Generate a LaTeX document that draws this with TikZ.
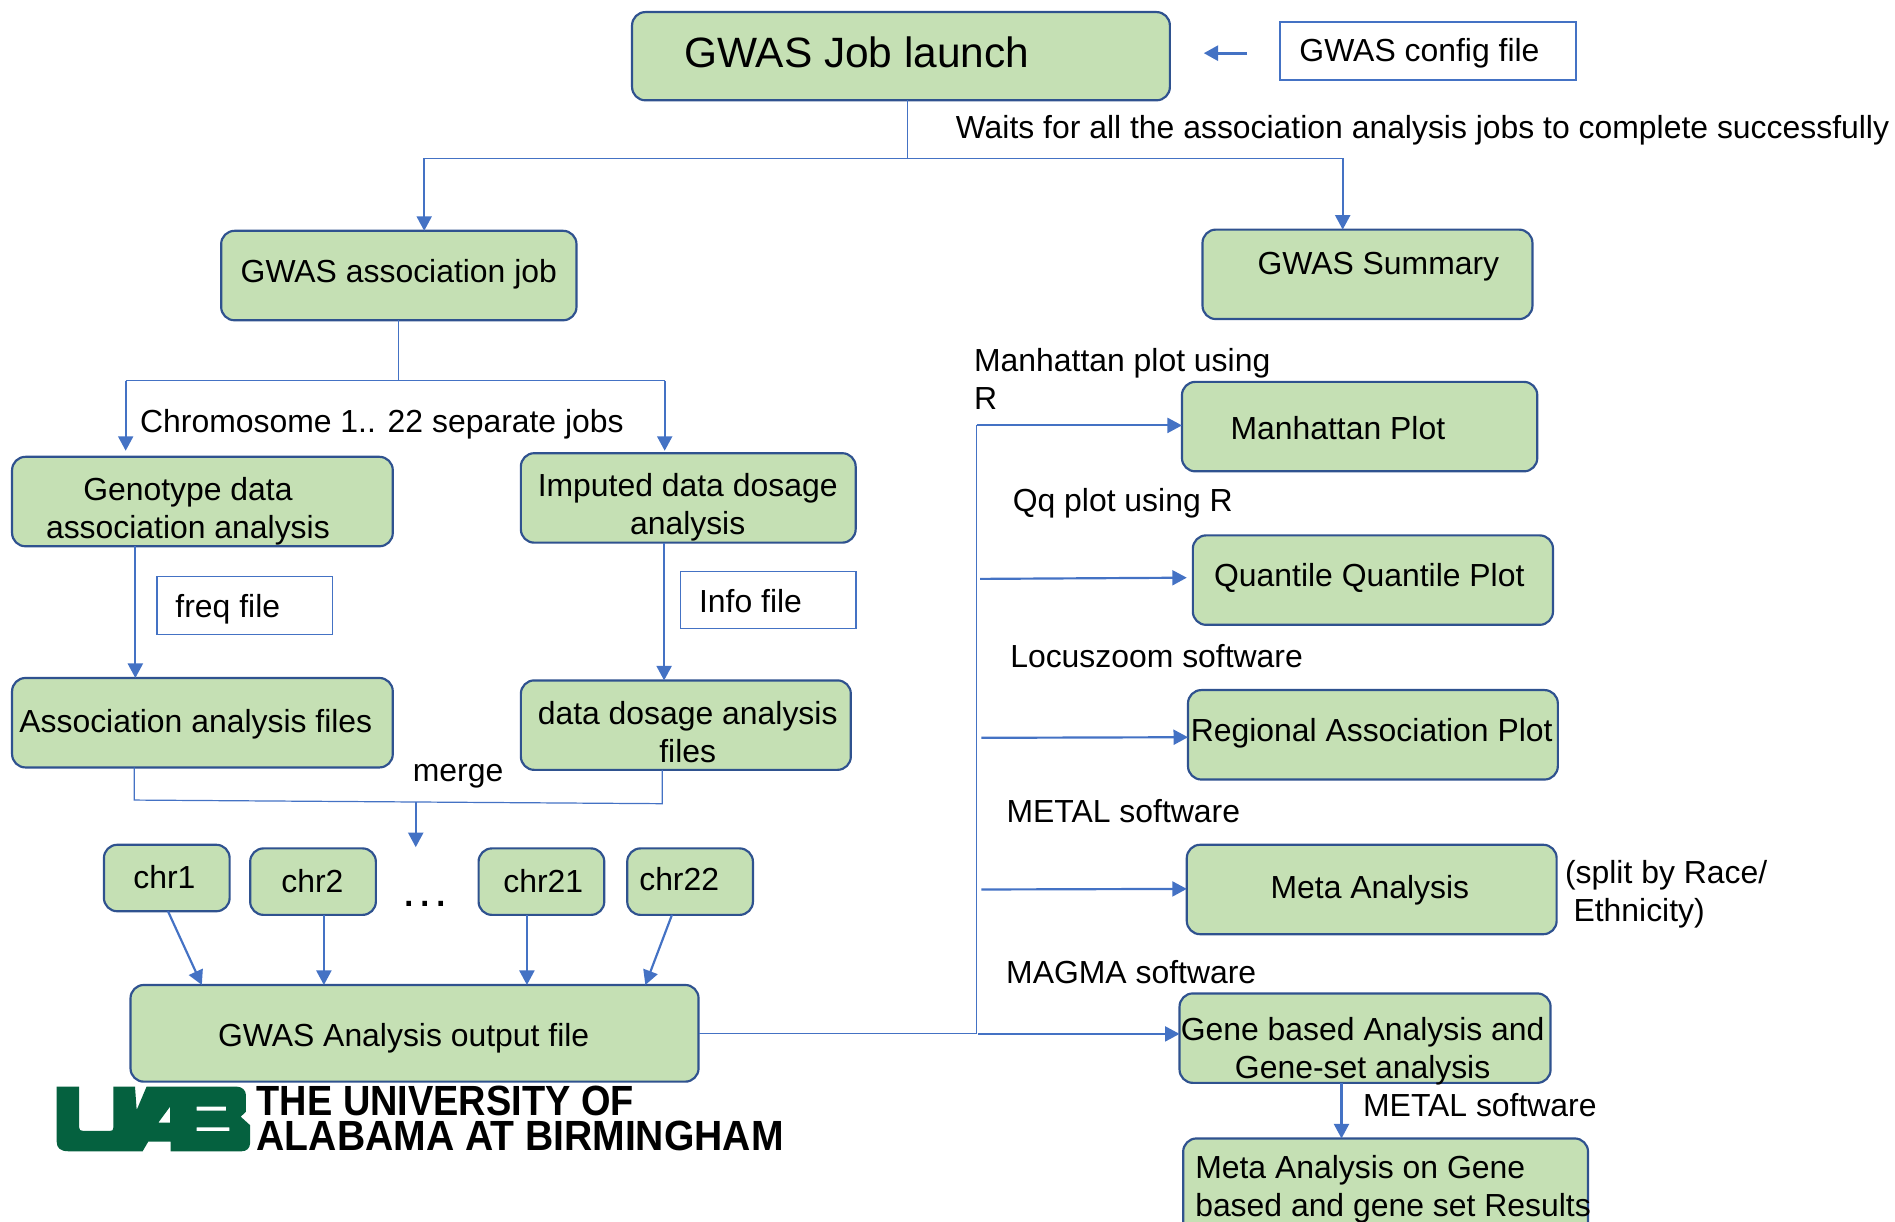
\documentclass[tikz,border=0pt]{standalone}
\usepackage{fontspec}
\usepackage{graphicx}
\setmainfont{Liberation Sans}
\usetikzlibrary{arrows.meta}
\definecolor{boxfill}{HTML}{C5E0B4}
\definecolor{boxline}{HTML}{2F528F}
\definecolor{conn}{HTML}{4472C4}
\definecolor{uabgreen}{HTML}{05613F}
\tikzset{
  x=0.5pt,y=-0.5pt,
  box/.style={draw=boxline,fill=boxfill,line width=0.9pt,rounded corners=5.5pt,outer sep=0pt,inner sep=0pt},
  filebox/.style={draw=conn,fill=white,line width=0.7pt,outer sep=0pt,inner sep=0pt},
  txt/.style={inner sep=0pt,outer sep=0pt,font=\fontsize{13.2}{15.6}\selectfont,align=center,text=black},
  thin line/.style={draw=conn,line width=0.5pt},
  flow/.style={draw=conn,line width=0.9pt,-{Triangle[length=6pt,width=6.2pt]}},
}
\newcommand{\bx}[6][box]{%
  \pgfmathsetmacro{\bw}{(#4-#2)*0.5}\pgfmathsetmacro{\bh}{(#5-#3)*0.5}%
  \node[#1,minimum width=\bw pt,minimum height=\bh pt] (#6) at ({(#2+#4)/2},{(#3+#5)/2}) {};}
\begin{document}
\begin{tikzpicture}
\clip (0,0) rectangle (1568,1011.1);
% boxes
\bx{523}{10}{968}{83}{job}
\bx[filebox]{1059}{18}{1304}{66}{cfg}
\bx{183}{191}{477}{265}{assoc}
\bx{995}{190}{1268}{264}{summary}
\bx{10}{378}{325}{452}{geno}
\bx{431}{375}{708}{449}{imput}
\bx[filebox]{130}{477}{275}{525}{freq}
\bx[filebox]{563}{473}{708}{520}{info}
\bx{10}{561}{325}{635}{afiles}
\bx{431}{563}{704}{637}{dfiles}
\bx{86}{699}{190}{754}{chra}
\bx{207}{702}{311}{757}{chrb}
\bx{396}{702}{500}{757}{chrc}
\bx{519}{702}{623}{757}{chrd}
\bx{108}{815}{578}{895}{output}
\bx{978}{316}{1272}{390}{manh}
\bx{987}{443}{1285}{517}{qq}
\bx{983}{571}{1289}{645}{regional}
\bx{982}{699}{1288}{773}{meta}
\bx{976}{822}{1283}{896}{gene}
\bx{979}{942}{1314}{1040}{metagene}
% texts
\node[txt,font=\fontsize{17.55}{20}\selectfont] (t1) at (709,43) {GWAS Job launch};
\node[txt] (t2) at (1174.5,44) {GWAS config file};
\node[txt] (t3) at (1177,108) {Waits for all the association analysis jobs to complete successfully};
\node[txt] (t4) at (330,227) {GWAS association job};
\node[txt] (t5) at (1140.5,221) {GWAS Summary};
\node[txt] (t6) at (316,351) {Chromosome 1.. 22 separate jobs};
\node[txt] (t7) at (155.5,423) {Genotype data\\association analysis};
\node[txt] (t8) at (569,420) {Imputed data dosage\\analysis};
\node[txt] (t9) at (188.5,504) {freq file};
\node[txt] (t10) at (621,497) {Info file};
\node[txt] (t11) at (162,599) {Association analysis files};
\node[txt] (t12) at (569,606) {data dosage analysis\\files};
\node[txt] (t13) at (379,642) {merge};
\node[txt] (t14) at (136,726) {chr1};
\node[txt] (t15) at (258.5,729) {chr2};
\node[txt] (t16) at (449.5,729) {chr21};
\node[txt] (t17) at (562,727) {chr22};
\node[txt,font=\fontsize{20}{22}\selectfont] (t18) at (352,748.3) {.\kern1.06pt.\kern1.06pt.};
\node[txt] (t19) at (334,859) {GWAS Analysis output file};
\node[txt,align=left,anchor=west] (t20) at (806,313.5) {Manhattan plot using\\R};
\node[txt] (t21) at (1107,354) {Manhattan Plot};
\node[txt] (t22) at (929,416) {Qq plot using R};
\node[txt] (t23) at (1133,478) {Quantile Quantile Plot};
\node[txt] (t24) at (957,543) {Locuszoom software};
\node[txt] (t25) at (1135,607) {Regional Association Plot};
\node[txt] (t26) at (929.5,671) {METAL software};
\node[txt] (t27) at (1133.5,737) {Meta Analysis};
\node[txt,align=left,anchor=west] (t28) at (1295,740) {(split by Race/\\\hspace*{3.5pt}Ethnicity)};
\node[txt] (t29) at (936,804) {MAGMA software};
\node[txt] (t30) at (1127.5,870) {Gene based Analysis and\\Gene-set analysis};
\node[txt] (t31) at (1224.5,914) {METAL software};
\node[txt,align=left,anchor=west] (t32) at (989,984) {Meta Analysis on Gene\\based and gene set Results};
% logo
\fill[uabgreen,even odd rule]
  (46.9,899.1) -- (65.4,899.1) -- (65.4,932.5) .. controls (65.4,935) and (66.5,935.8) .. (69,935.8)
  -- (91,935.8) .. controls (93,935.8) and (93.8,935) .. (93.8,933) -- (93.8,899.1) -- (111.7,899.1) -- (113.1,918.4) -- (121.3,899.1)
  -- (195.8,899.1) .. controls (200,899.1) and (203.5,902) .. (203.5,906) -- (203.5,919.8) -- (199.2,924) -- (206.9,931)
  -- (206.9,946) .. controls (206.9,950) and (204,952.6) .. (200,952.6)
  -- (141.2,952.6) -- (141.2,944.6) -- (122.7,944.6) -- (118,952.6) -- (56.5,952.6)
  .. controls (50,952.6) and (46.9,950) .. (46.9,944.6) -- cycle
  (131,928.9) -- (140.7,928.9) -- (140.7,915.7) -- cycle
  (162.7,915.7) -- (187,915.7) -- (187,919) -- (162.7,919) -- cycle
  (162.7,932.8) -- (189.7,932.8) -- (189.7,936) -- (162.7,936) -- cycle;
\node[inner sep=0pt,anchor=south west] (logoa) at (212,924) {\resizebox{156pt}{12.2pt}{\bfseries THE UNIVERSITY OF}};
\node[inner sep=0pt,anchor=south west] (logob) at (212,952.5) {\resizebox{218pt}{12.2pt}{\bfseries ALABAMA AT BIRMINGHAM}};
% junctions
\coordinate (cfgarrow) at (1032,44);
\coordinate (cfghead) at (996,44);
\coordinate (jobtee) at (751,131);
\coordinate (jobleft) at (351,131);
\coordinate (jobright) at (1111,131);
\coordinate (assoctee) at (330,315);
\coordinate (assocl) at (104,315);
\coordinate (assocr) at (550,315);
\coordinate (genoend) at (104,373);
\coordinate (imputend) at (550,373);
\coordinate (gx) at (112,0);
\coordinate (ix) at (549.5,0);
\coordinate (ml) at (111,662);
\coordinate (mr) at (548,665);
\coordinate (mtee) at (344,664);
\coordinate (mhead) at (344,701);
\coordinate (busb) at (808,855);
\coordinate (bust) at (808,352);
\coordinate (qs) at (811,479);
\coordinate (qe) at (982,478);
\coordinate (rs) at (812,610.5);
\coordinate (re) at (983,610);
\coordinate (ms) at (812,736);
\coordinate (me) at (982,735.5);
\coordinate (gs) at (809,855.5);
% connectors
\draw[flow,line width=1.3pt] (cfgarrow) -- (cfghead);
\draw[thin line] (job.south -| jobtee) -- (jobtee);
\draw[thin line] (jobleft) -- (jobright);
\draw[flow] (jobleft) -- (assoc.north -| jobleft);
\draw[flow] (jobright) -- (summary.north -| jobright);
\draw[thin line] (assoc.south) -- (assoctee);
\draw[thin line] (assocl) -- (assocr);
\draw[flow] (assocl) -- (genoend);
\draw[flow] (assocr) -- (imputend);
\draw[flow] (geno.south -| gx) -- (afiles.north -| gx);
\draw[flow] (imput.south -| ix) -- (dfiles.north -| ix);
\draw[thin line] (afiles.south -| ml) -- (ml) -- (mr) -- (dfiles.south -| mr);
\draw[flow] (mtee) -- (mhead);
\draw[flow] (chra.south -| 139,0) -- (output.north -| 167,0);
\draw[flow] (chrb.south -| 268,0) -- (output.north -| 268,0);
\draw[flow] (chrc.south -| 436,0) -- (output.north -| 436,0);
\draw[flow] (chrd.south -| 556,0) -- (output.north -| 534,0);
\draw[thin line] (output.east |- busb) -- (busb) -- (bust);
\draw[flow] (bust) -- (manh.west |- bust);
\draw[flow] (qs) -- (qe);
\draw[flow] (rs) -- (re);
\draw[flow] (ms) -- (me);
\draw[flow] (gs) -- (gene.west |- gs);
\draw[flow] (gene.south -| 1110,0) -- (metagene.north -| 1110,0);
\end{tikzpicture}
\end{document}
